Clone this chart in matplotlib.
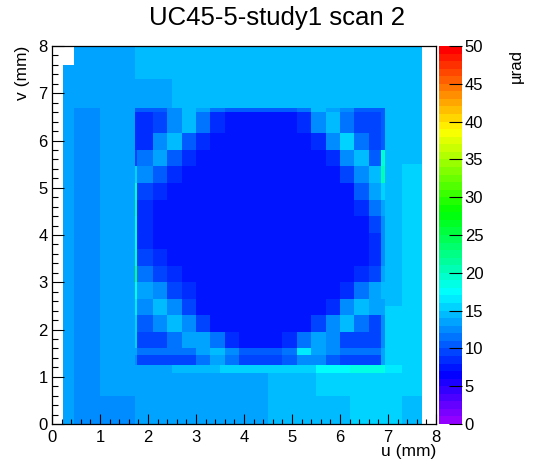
import colorsys
import numpy as np
import matplotlib
matplotlib.use("Agg")
import matplotlib.pyplot as plt
from matplotlib.colors import ListedColormap, Normalize
from matplotlib.cm import ScalarMappable

plt.rcParams['font.family'] = ['Liberation Sans', 'DejaVu Sans']

title = "UC45-5-study1 scan 2"
x_label = "u (mm)"
y_label = "v (mm)"
z_label = "µrad"
z_ticks = [0, 5, 10, 15, 20, 25, 30, 35, 40, 45, 50]
axis_ticks = [0, 1, 2, 3, 4, 5, 6, 7, 8]

# outer (noisy frame) region: cell edges in mm and mean values (µrad)
outer_x = [0.22, 0.45, 1.0, 1.72, 2.5, 3.5, 4.5, 5.5, 6.2, 6.93, 7.3, 7.7]
outer_y = [0.0, 0.6, 1.08, 1.25, 2.5, 4.0, 5.5, 6.68, 7.3, 7.6, 8.0]
N = np.nan
outer_vals_top_down = [
    [N, 13, 13, 14, 14, 14, 14, 14, 14, 14, 14],
    [13, 13, 13, 14, 14, 14, 14, 14, 14, 14, 14],
    [13, 13, 13, 13, 14, 14, 14, 14, 14, 14, 14],
    [13, 12, 13, N, N, N, N, N, N, 14, 14],
    [13, 12, 13, N, N, N, N, N, N, 14, 15],
    [13, 12, 13, N, N, N, N, N, N, 14, 15],
    [13, 12, 13, N, N, N, N, N, N, 15, 15],
    [13, 12, 13, 13, 14, 15, 15, 17, 18, 16, 15],
    [13, 12, 13, 13, 13, 13, 14, 15, 15, 15, 15],
    [13, 12, 12, 13, 13, 13, 14, 14, 15, 15, 14],
]

# inner square (sample window) region
inner_x = [1.72, 1.78, 2.10, 2.40, 2.70, 3.00, 3.30, 3.60, 3.90, 4.20, 4.50,
           4.80, 5.10, 5.40, 5.70, 6.00, 6.30, 6.60, 6.86, 6.93]
inner_y = [1.25, 1.46, 1.60, 1.95, 2.30, 2.65, 3.00, 3.35, 3.70, 4.05, 4.40,
           4.75, 5.10, 5.45, 5.80, 6.15, 6.60, 6.68]
inner_vals_top_down = [
    [10, 10, 10, 12, 14, 13, 11, 10, 10, 10, 10, 10, 11, 14, 13, 12, 10, 10, 10],
    [8, 8, 9, 12, 14, 11, 8, 7, 7, 7, 7, 7, 8, 12, 14, 11, 9, 9, 10],
    [8, 8, 12, 14, 10, 8, 7, 7, 7, 7, 7, 7, 7, 8, 12, 15, 11, 9, 10],
    [9, 11, 13, 10, 8, 7, 7, 7, 7, 7, 7, 7, 7, 7, 8, 12, 14, 10, 19],
    [15, 12, 10, 8, 7, 7, 7, 7, 7, 7, 7, 7, 7, 7, 7, 9, 12, 14, 20],
    [19, 9, 8, 7, 7, 7, 7, 7, 7, 7, 7, 7, 7, 7, 7, 7, 10, 13, 15],
    [20, 8, 7, 7, 7, 7, 7, 7, 7, 7, 7, 7, 7, 7, 7, 7, 8, 11, 13],
    [18, 8, 7, 7, 7, 7, 7, 7, 7, 7, 7, 7, 7, 7, 7, 7, 7, 9, 12],
    [17, 8, 7, 7, 7, 7, 7, 7, 7, 7, 7, 7, 7, 7, 7, 7, 7, 8, 12],
    [19, 9, 8, 7, 7, 7, 7, 7, 7, 7, 7, 7, 7, 7, 7, 7, 7, 8, 12],
    [22, 11, 9, 8, 7, 7, 7, 7, 7, 7, 7, 7, 7, 7, 7, 7, 8, 9, 13],
    [18, 13, 12, 9, 8, 7, 7, 7, 7, 7, 7, 7, 7, 7, 7, 8, 11, 13, 14],
    [16, 12, 14, 12, 9, 7, 7, 7, 7, 7, 7, 7, 7, 7, 8, 12, 14, 13, 13],
    [15, 10, 12, 14, 12, 9, 7, 7, 7, 7, 7, 7, 7, 9, 12, 14, 11, 9, 12],
    [15, 9, 9, 11, 13, 13, 11, 8, 7, 7, 7, 8, 11, 13, 12, 9, 9, 9, 12],
    [13, 11, 11, 11, 11, 13, 14, 12, 10, 10, 10, 11, 16, 13, 12, 11, 11, 11, 13],
    [12, 9, 9, 9, 9, 11, 13, 11, 9, 9, 9, 10, 12, 12, 10, 9, 9, 9, 13],
]

# ROOT "pretty" palette: 50 fully saturated hues from violet to red
n_levels = 50
pal = [colorsys.hls_to_rgb((280 - (i + 1) * 280 / n_levels) / 360.0, 0.5, 1.0)
       for i in range(n_levels)]
cmap = ListedColormap(pal)
norm = Normalize(0, 50)

W, H = 546, 472
fig = plt.figure(figsize=(W / 100, H / 100), dpi=100)
ax = fig.add_axes([52 / W, 1 - 424 / H, 384 / W, 378 / H])
cax = fig.add_axes([439 / W, 1 - 424 / H, 23 / W, 378 / H])

outer = np.ma.masked_invalid(np.flipud(np.array(outer_vals_top_down, float)))
inner = np.flipud(np.array(inner_vals_top_down, float))
ax.pcolormesh(outer_x, outer_y, outer, cmap=cmap, norm=norm, shading='flat')
ax.pcolormesh(inner_x, inner_y, inner, cmap=cmap, norm=norm, shading='flat')

ax.set_xlim(0, 8)
ax.set_ylim(0, 8)
ax.set_xticks(axis_ticks)
ax.set_yticks(axis_ticks)
ax.set_xticks(np.arange(0, 8.01, 0.2), minor=True)
ax.set_yticks(np.arange(0, 8.01, 0.2), minor=True)
ax.tick_params(which='both', direction='in', top=False, right=False,
               labelsize=12, width=0.8, colors='black')
ax.tick_params(axis='x', which='major', length=7.5, pad=4)
ax.tick_params(axis='x', which='minor', length=3.8)
ax.tick_params(axis='y', which='major', length=8.5, pad=3)
ax.tick_params(axis='y', which='minor', length=4.3)
for s in ax.spines.values():
    s.set_linewidth(0.9)

ax.set_xlabel(x_label, fontsize=12.5, ha='right')
ax.xaxis.set_label_coords(1.0, -0.054)
ax.set_ylabel(y_label, fontsize=12.5, ha='right')
ax.yaxis.set_label_coords(-0.056, 1.0)

fig.text(277 / W, 1 - 18 / H, title, ha='center', va='center', fontsize=18.5)

cb = fig.colorbar(ScalarMappable(norm=norm, cmap=cmap), cax=cax)
cb.outline.set_visible(False)
cb.set_ticks(z_ticks)
cax.tick_params(direction='in', length=9.5, width=0.8, labelsize=12, pad=2,
                right=True, left=False)
cax.minorticks_off()
fig.text(516 / W, 1 - 49 / H, z_label, rotation=90, ha='center', va='top',
         fontsize=12)

fig.savefig("out.png", dpi=100, facecolor='white')
